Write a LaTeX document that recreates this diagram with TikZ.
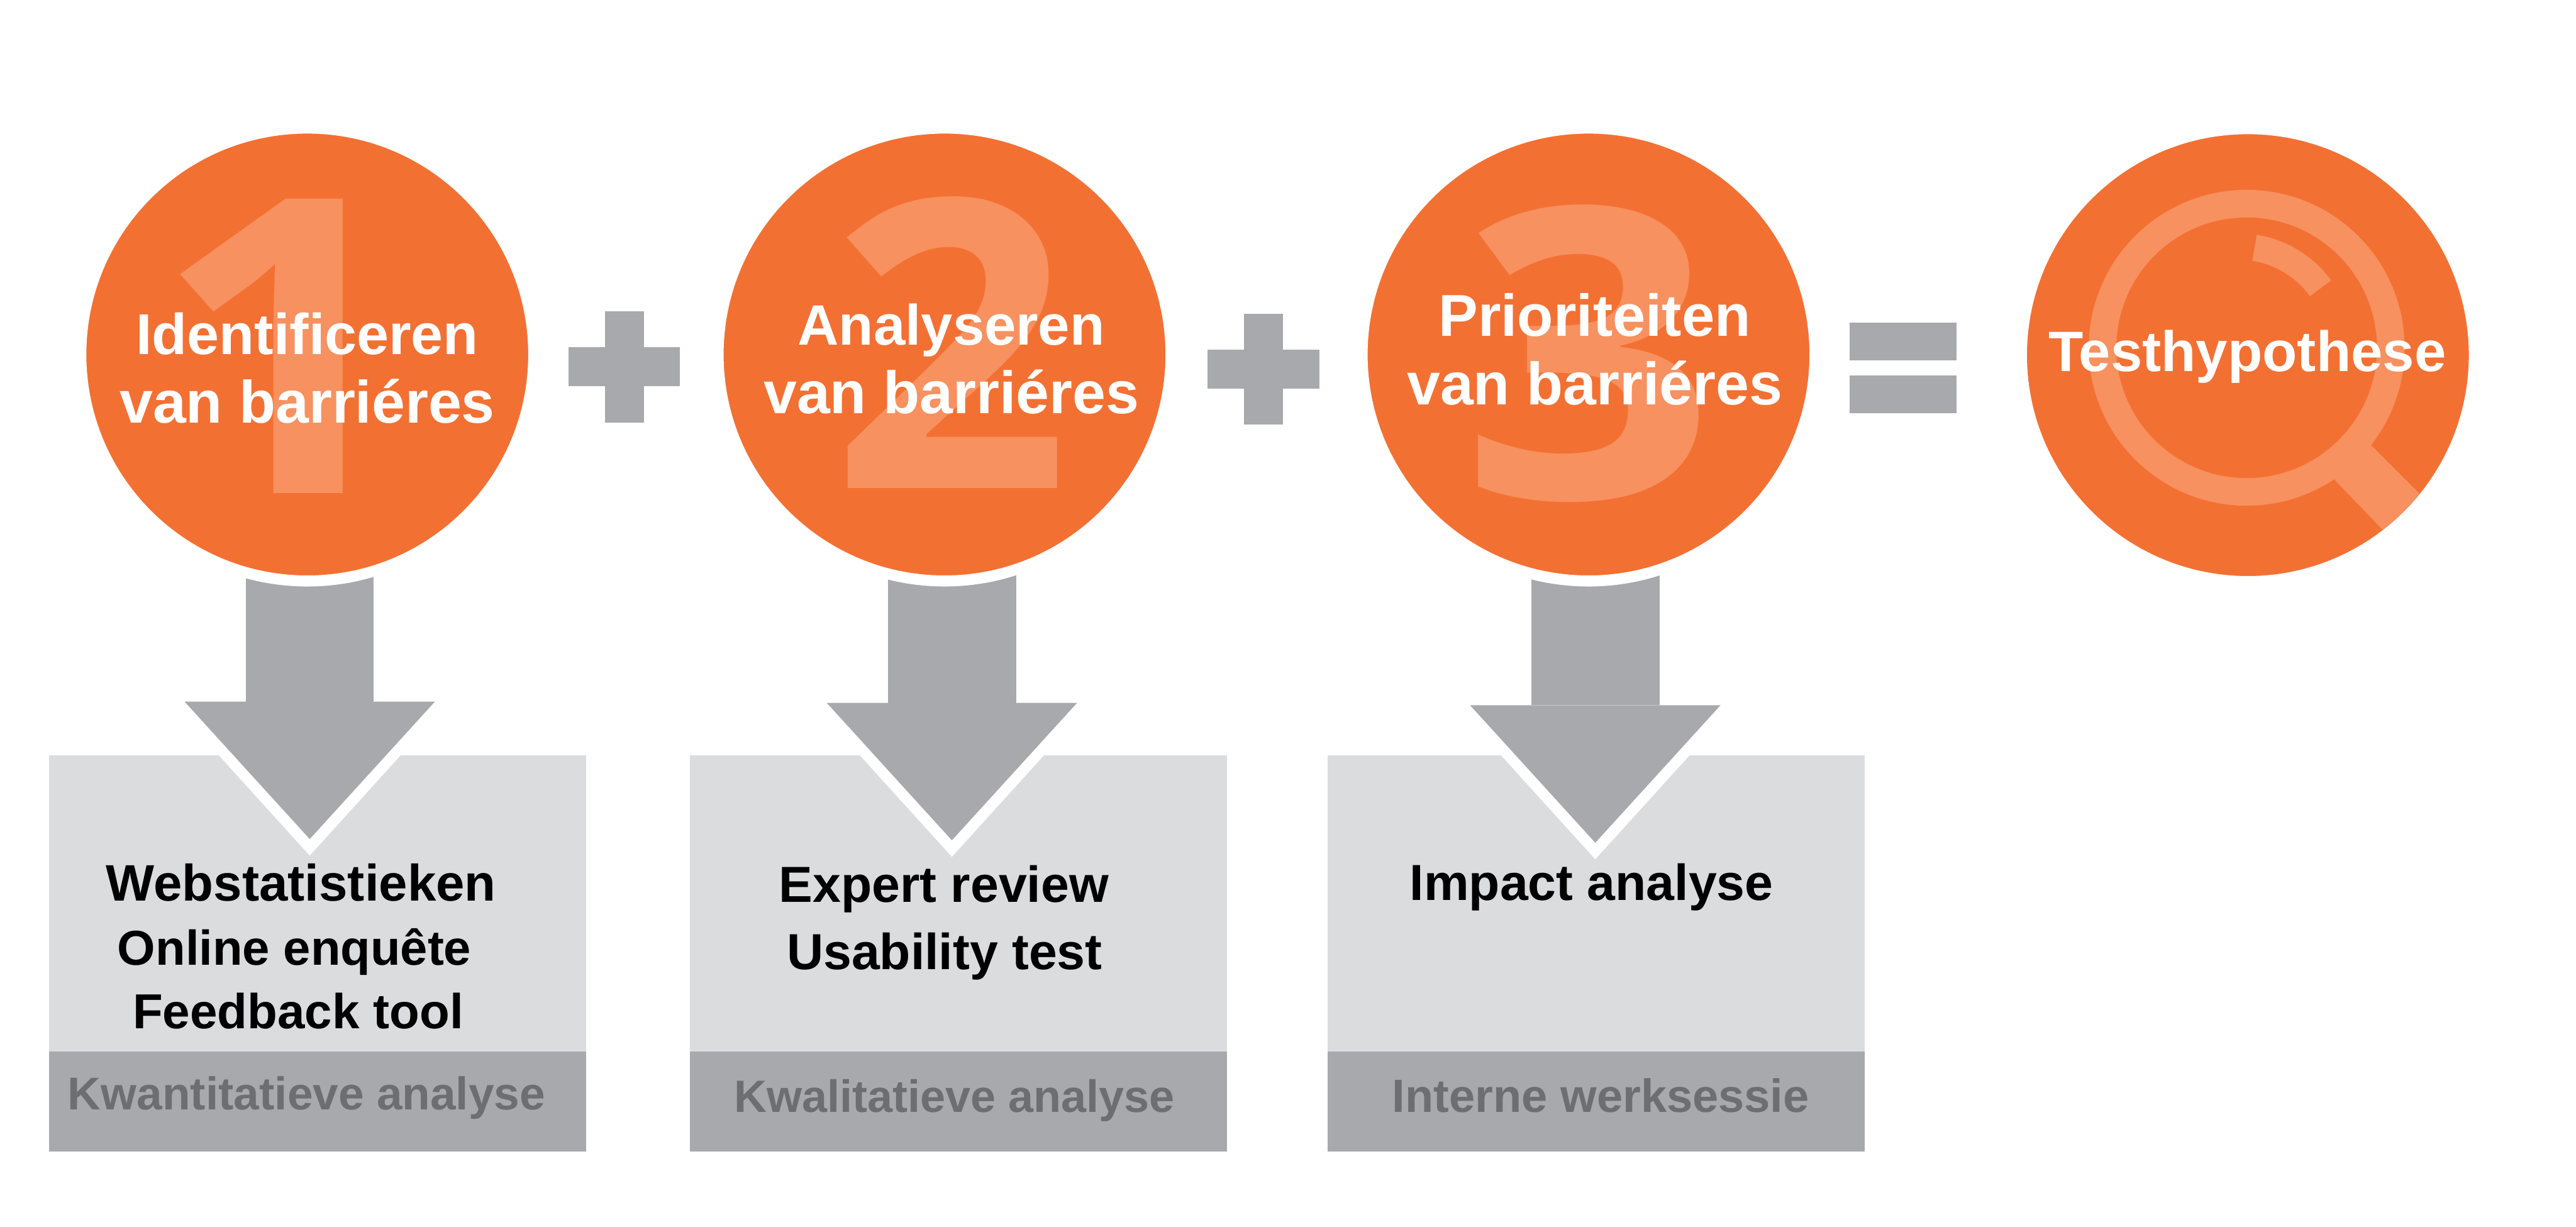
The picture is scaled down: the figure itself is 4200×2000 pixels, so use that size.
\documentclass[tikz,border=0pt]{standalone}
\usepackage{fontspec}
\setmainfont{Liberation Sans}
\newfontfamily\numberfont{Open Sans}
\usetikzlibrary{positioning}
\usetikzlibrary{arrows.meta}

\definecolor{orangefill}{HTML}{F37033}
\definecolor{orangelight}{HTML}{F7915F}
\definecolor{signgrey}{HTML}{A7A9AC}
\definecolor{boxgrey}{HTML}{DBDCDE}
\definecolor{bandtext}{HTML}{6D6E71}

\pgfdeclarelayer{background}
\pgfsetlayers{background,main}

\tikzset{
    stepcircle/.style={
        circle,
        fill=orangefill,
        draw=white,
        line width=0.18cm,
        minimum size=7.38cm,
        inner sep=0pt
    },
    biglabel/.style={
        align=center,
        anchor=base,
        inner sep=0pt,
        text=white,
        font=\bfseries\fontsize{27.7}{31.8}\selectfont
    },
    bignumber/.style={
        inner sep=0pt,
        text=orangelight,
        font=\numberfont\bfseries
    },
    methodbox/.style={
        rectangle,
        fill=boxgrey,
        minimum width=8.75cm,
        minimum height=4.83cm,
        inner sep=0pt,
        outer sep=0pt
    },
    bandbox/.style={
        rectangle,
        fill=signgrey,
        minimum width=8.75cm,
        minimum height=1.63cm,
        inner sep=0pt,
        outer sep=0pt
    },
    methodtext/.style={
        anchor=base,
        inner sep=0pt,
        font=\bfseries\fontsize{23.5}{28}\selectfont
    },
    bandtext/.style={
        anchor=base,
        inner sep=0pt,
        text=bandtext,
        font=\bfseries\fontsize{21}{25}\selectfont
    },
    signbar/.style={
        rectangle,
        fill=signgrey,
        inner sep=0pt,
        outer sep=0pt
    },
    blockarrow/.style={
        draw=signgrey,
        line width=2.09cm,
        -{Triangle[length=2.24cm,width=4.08cm,line width=0pt]},
        preaction={
            draw=white,
            -{Triangle[length=3cm,width=5.44cm,line width=0pt]},
            shorten >=-0.27cm
        }
    }
}

\begin{document}
\begin{tikzpicture}[x=0.01cm,y=-0.01cm]
    \useasboundingbox (0,0) rectangle (4200,2000);

    % circles
    \node[stepcircle] (circleA) at (501,578) {};
    \node[stepcircle] (circleB) at (1540,578) {};
    \node[stepcircle] (circleC) at (2590,578) {};
    \node[stepcircle] (circleD) at (3665,579) {};

    % numbers behind the labels
    \node[bignumber] (numberA) at (463,564) {\resizebox{4.27cm}{4.79cm}{1}};
    \node[bignumber] (numberB) at (1550,558) {\resizebox{3.9cm}{4.75cm}{2}};
    \node[bignumber] (numberC) at (2590,576) {\resizebox{4.15cm}{4.78cm}{3}};

    % magnifying glass
    \begin{scope}
        \clip (circleD.center) circle[radius=360];
        \draw[orangelight, line width=0.45cm] (3663,567) circle[radius=235];
        \fill[orangelight] (3846,706) -- (3966,826) -- (3906,886) -- (3786,761) -- cycle;
        \draw[orangelight, line width=0.43cm] (3650,567) ++(-81:165) arc[start angle=-81, end angle=-36, radius=165];
    \end{scope}

    \node[biglabel] (labelA) at (501,690) {{\fontsize{26.7}{31.8}\selectfont Identificeren}\\van barri\'eres};
    \node[biglabel] (labelB) at (1551,674) {{\fontsize{26.4}{31.8}\selectfont Analyseren}\\van barri\'eres};
    \node[biglabel] (labelC) at (2600,660) {{\fontsize{27.4}{31.8}\selectfont Prioriteiten}\\van barri\'eres};
    \node[biglabel, font=\bfseries\fontsize{26.4}{31.8}\selectfont] (labelD) at (3664,606) {Testhypothese};

    % plus and equals signs
    \node[signbar, minimum width=1.81cm, minimum height=0.64cm] (plusAh) at (1018,598) {};
    \node[signbar, minimum width=0.64cm, minimum height=1.81cm] (plusAv) at (1018,598) {};
    \node[signbar, minimum width=1.82cm, minimum height=0.64cm] (plusBh) at (2060,602) {};
    \node[signbar, minimum width=0.63cm, minimum height=1.81cm] (plusBv) at (2060,602) {};
    \node[signbar, minimum width=1.74cm, minimum height=0.61cm] (equalTop) at (3103,557) {};
    \node[signbar, minimum width=1.74cm, minimum height=0.61cm, below=0.25cm of equalTop] (equalBottom) {};

    % boxes
    \begin{pgfonlayer}{background}
        \node[methodbox, anchor=north west] (boxA) at (80,1231) {};
        \node[methodbox, anchor=north west] (boxB) at (1125,1231) {};
        \node[methodbox, anchor=north west] (boxC) at (2165,1231) {};
        \node[bandbox, below=0pt of boxA] (bandA) {};
        \node[bandbox, below=0pt of boxB] (bandB) {};
        \node[bandbox, below=0pt of boxC] (bandC) {};

        % arrows
        \coordinate (tipA) at (505,1368);
        \coordinate (tipB) at (1552,1370);
        \coordinate (tipC) at (2601,1374);
        \draw[blockarrow] (tipA |- circleA) -- (tipA);
        \draw[blockarrow] (tipB |- circleB) -- (tipB);
        \draw[blockarrow] (tipC |- circleC) -- (tipC);
    \end{pgfonlayer}

    \node[methodtext, font=\bfseries\fontsize{23.8}{28}\selectfont] (textA) at (491,1469) {Webstatistieken};
    \node[methodtext, font=\bfseries\fontsize{22.7}{28}\selectfont] (textB) at (480,1573) {Online enqu\^ete};
    \node[methodtext, font=\bfseries\fontsize{22.8}{28}\selectfont] (textC) at (486,1677) {Feedback tool};
    \node[methodtext] (textD) at (1539,1471) {Expert review};
    \node[methodtext] (textE) at (1540,1581) {Usability test};
    \node[methodtext] (textF) at (2595,1468) {Impact analyse};

    \node[bandtext, font=\bfseries\fontsize{21.3}{25}\selectfont] (bandtextA) at (500,1809) {Kwantitatieve analyse};
    \node[bandtext] (bandtextB) at (1556,1813) {Kwalitatieve analyse};
    \node[bandtext, font=\bfseries\fontsize{21.6}{25}\selectfont] (bandtextC) at (2610,1813) {Interne werksessie};
\end{tikzpicture}
\end{document}
